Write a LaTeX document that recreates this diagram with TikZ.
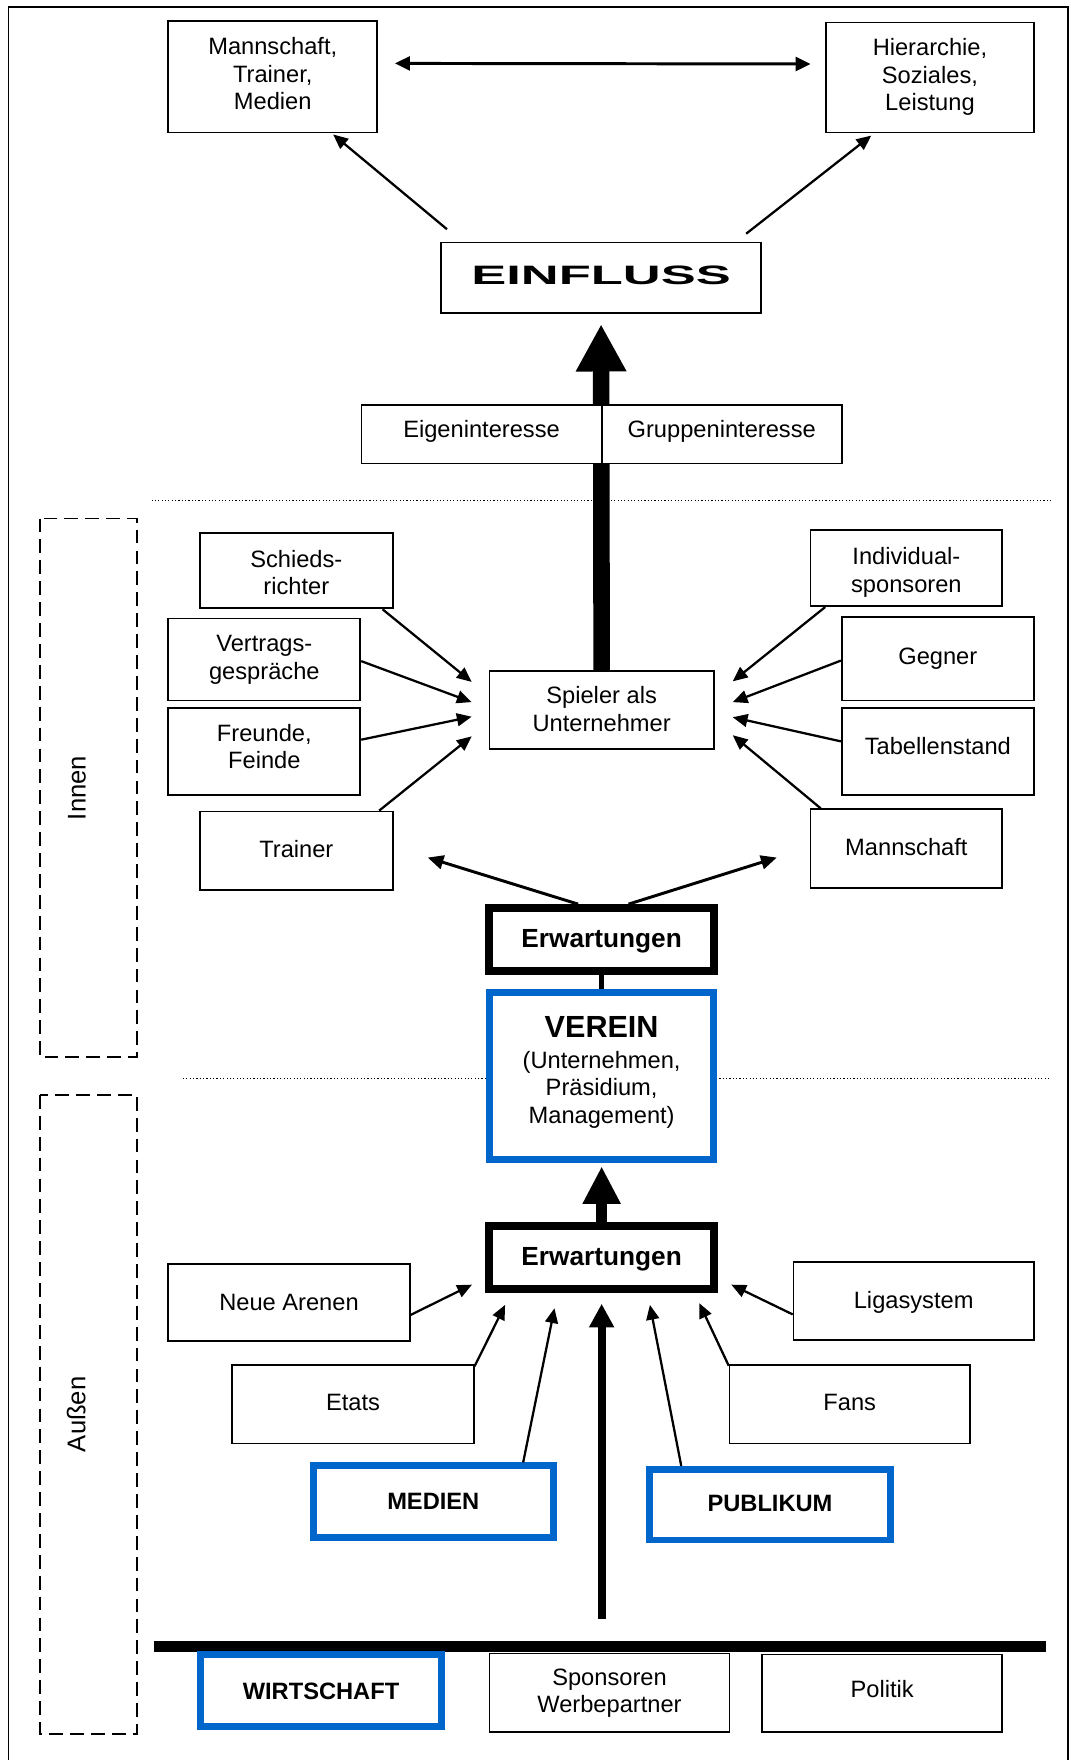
\documentclass[tikz,border=0pt]{standalone}
\usepackage{fontspec}
\setmainfont{Liberation Sans}
\usepackage{graphicx}
\usetikzlibrary{arrows.meta,calc}
\definecolor{boxblue}{HTML}{0066CC}

% a box given by its corners (picture units) and its text, lines stacked in a tabular;
% the text can be moved up or down inside the box with lift
\newcommand\diabox[7][]{%
  \node[plainbox,#1,minimum width={(#5-#3)*0.02cm},minimum height={(#6-#4)*0.02cm}]
    (#2) at ({(#3+#5)/2},{(#4+#6)/2})
    {\raisebox{\boxlift}[\height][\depth]{\begin{tabular}{@{}c@{}}#7\end{tabular}}};}

\tikzset{
  lift/.code={\def\boxlift{#1}},
  plainbox/.style={draw, line width=0.9pt, fill=white, align=center, inner sep=0pt,
    font=\fontsize{12}{14}\selectfont, lift=0pt},
  heavybox/.style={line width=4pt, font=\fontsize{13.3}{16}\selectfont\bfseries},
  bluebox/.style={draw=boxblue, line width=3.5pt, font=\fontsize{12}{14}\selectfont\bfseries},
  thinarrow/.style={line width=1.15pt, -{Triangle[length=7.5pt,width=6.5pt]}},
  midarrow/.style={line width=1.5pt, -{Triangle[length=8pt,width=7pt]}},
  twoway/.style={line width=1.5pt, {Triangle[length=7.6pt,width=7pt]}-{Triangle[length=7.6pt,width=7pt]}},
  bigarrow/.style={line width=8.4pt, -{Triangle[length=24pt,width=24pt]}},
  vereinarrow/.style={line width=5.7pt, -{Triangle[length=19pt,width=18pt]}},
  basearrow/.style={line width=4.1pt, -{Triangle[length=12pt,width=12pt]}},
  dotline/.style={line width=0.6pt, dash pattern=on 0.6pt off 1.1pt},
  zonebox/.style={line width=0.9pt, dash pattern=on 7pt off 3.6pt},
  zonelabel/.style={rotate=90, font=\fontsize{13}{15}\selectfont, inner sep=0pt}
}

\begin{document}
\begin{tikzpicture}[x=0.02cm, y=-0.02cm]
\useasboundingbox (0,0) rectangle (954,1568);

% frame
\draw[line width=0.9pt] (7.5,1568) -- (7.5,6) -- (951.5,6) -- (951.5,1568);

% separators between the levels
\draw[dotline] (135,446) -- (936,446);
\draw[dotline] (163,961) -- (936,961);

% inner and outer zones
\draw[zonebox] (35.5,462) rectangle (122,942);
\draw[zonebox] (35.5,975.5) rectangle (122,1544.5);
\node[zonelabel] (innen) at (68.5,702) {Innen};
\node[zonelabel] (aussen) at (68,1260) {Außen};

% top level
\diabox[lift=0.2pt]{mtop}{150}{19}{336}{118}{Mannschaft,\\Trainer,\\Medien}
\diabox[lift=-0.2pt]{htop}{736}{20}{921}{118}{Hierarchie,\\Soziales,\\Leistung}
\diabox[lift=-0.4pt]{einfluss}{393}{216}{678}{279}{\scalebox{1.97}[1]{\fontsize{13.5}{16}\selectfont\bfseries EINFLUSS}}

\draw[twoway] ($(mtop.east)+(15,-12)$) -- ($(htop.west)+(-13,-12)$);
\draw[thinarrow] ($(einfluss.north west)+(6,-11)$) -- ($(mtop.south east)+(-40,1)$);
\draw[thinarrow] ($(einfluss.north east)+(-14,-7)$) -- ($(htop.south west)+(41,2)$);

% player level
\diabox[lift=-1pt]{spieler}{436}{598}{636}{667}{Spieler als\\Unternehmer}
\draw[bigarrow] (spieler.north) -- ($(einfluss.south)+(0,9)$);
\diabox[lift=1pt]{eigen}{322}{361}{536}{413}{Eigeninteresse}
\diabox[lift=1pt]{gruppe}{536}{361}{750}{413}{Gruppeninteresse}

\diabox[lift=-2.4pt]{schieds}{178}{475}{350}{542}{Schieds-\\richter}
\diabox[lift=-0.3pt]{vertrag}{150}{551}{321}{624}{Vertrags-\\gespräche}
\diabox[lift=1pt]{freunde}{150}{631}{321}{708}{Freunde,\\Feinde}
\diabox[lift=-0.75pt]{trainer}{178}{723}{350}{793}{Trainer}
\diabox[lift=-2.5pt]{indiv}{722}{472}{893}{540}{Individual-\\sponsoren}
\diabox{gegner}{750}{550}{921}{624}{Gegner}
\diabox[lift=1.1pt]{tabelle}{750}{631}{921}{708}{Tabellenstand}
\diabox[lift=-0.5pt]{mannsch}{722}{721}{893}{791}{Mannschaft}

\draw[thinarrow] ($(schieds.south east)+(-10,0)$) -- ($(spieler.west)+(-15,-25)$);
\draw[thinarrow] ($(vertrag.east)+(0,1.5)$) -- ($(spieler.west)+(-15,-7)$);
\draw[thinarrow] ($(freunde.east)+(0,-10.5)$) -- ($(spieler.west)+(-15,6)$);
\draw[thinarrow] ($(trainer.north east)+(-13,0)$) -- ($(spieler.west)+(-15,23.5)$);
\draw[thinarrow] ($(indiv.south west)+(14,0)$) -- ($(spieler.east)+(16,-25.5)$);
\draw[thinarrow] ($(gegner.west)+(0,1.5)$) -- ($(spieler.east)+(16,-7)$);
\draw[thinarrow] ($(tabelle.west)+(0,-9)$) -- ($(spieler.east)+(16,6.5)$);
\draw[thinarrow] ($(mannsch.north west)+(10,0)$) -- ($(spieler.east)+(16,22.5)$);

% club level
\diabox[heavybox,lift=-0.9pt]{erwA}{436}{809}{636}{865}{Erwartungen}
\diabox[bluebox,lift=0.8pt]{verein}{436}{884}{636}{1033}{{\fontsize{15.5}{18}\selectfont VEREIN}\\[1.4pt]\mdseries(Unternehmen,\\\mdseries Präsidium,\\\mdseries Management)}
\draw[line width=2.8pt] (erwA.south) -- (verein.north);

\coordinate (toTrainer) at (381,764);
\coordinate (toMannsch) at (692,764);
\draw[midarrow] ($(erwA.north)+(-21,0)$) -- (toTrainer);
\draw[midarrow] ($(erwA.north)+(24,0)$) -- (toMannsch);

% outer level
\diabox[heavybox,lift=-0.8pt]{erwB}{436}{1092}{636}{1148}{Erwartungen}
\draw[vereinarrow] (erwB.north) -- ($(verein.south)+(0,3)$);

\diabox[lift=-1pt]{arenen}{150}{1126}{365}{1195}{Neue Arenen}
\diabox[lift=-0.9pt]{liga}{707}{1124}{921}{1194}{Ligasystem}
\diabox[lift=-0.5pt]{etats}{207}{1216}{422}{1286}{Etats}
\diabox[lift=-0.5pt]{fans}{650}{1216}{864}{1286}{Fans}
\diabox[bluebox,lift=-1pt]{medien}{279}{1306}{493}{1370}{MEDIEN}
\diabox[bluebox,lift=-0.85pt]{publikum}{579}{1309}{793}{1372}{PUBLIKUM}

\draw[thinarrow] ($(arenen.east)+(0,11)$) -- ($(erwB.west)+(-12,24.5)$);
\draw[thinarrow] ($(liga.west)+(0,12)$) -- ($(erwB.east)+(12,24.5)$);
\draw[thinarrow] ($(etats.north east)+(0,2)$) -- ($(erwB.south)+(-86,11)$);
\draw[thinarrow] ($(medien.north east)+(-30,0)$) -- ($(erwB.south)+(-42,14)$);
\draw[thinarrow] ($(publikum.north west)+(31,0)$) -- ($(erwB.south)+(43,11)$);
\draw[thinarrow] ($(fans.north west)+(0,1.5)$) -- ($(erwB.south)+(87,9.5)$);

% base
\coordinate (barL) at (137,1467);
\coordinate (barR) at (932,1467);
\coordinate (baseMid) at (536,1442);
\draw[line width=5.6pt] (barL) -- (barR);
\draw[basearrow] (baseMid) -- ($(erwB.south)+(0,10)$);

\diabox[bluebox,lift=-1.9pt]{wirtschaft}{179}{1474}{393}{1538}{WIRTSCHAFT}
\diabox[lift=-0.5pt]{sponsoren}{436}{1473}{650}{1543}{Sponsoren\\Werbepartner}
\diabox[lift=0.4pt]{politik}{679}{1474}{893}{1543}{Politik}
\end{tikzpicture}
\end{document}
